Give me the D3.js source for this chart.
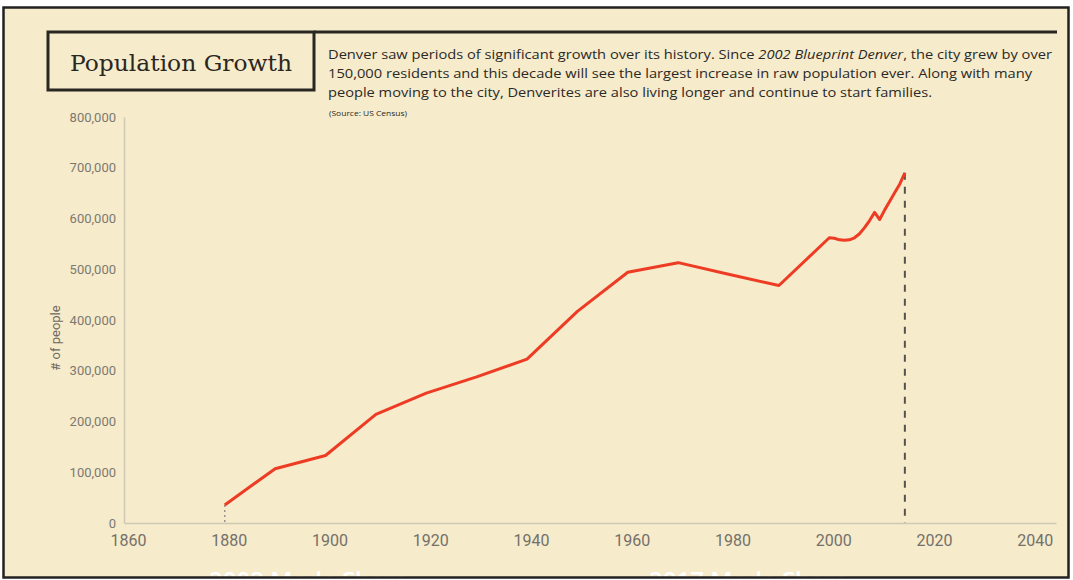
<!DOCTYPE html>
<html>
<head>
<meta charset="utf-8">
<script src="https://cdn.jsdelivr.net/npm/d3@7"></script>
<style>
  body { margin: 0; background: #fff; }
  svg { display: block; }
</style>
</head>
<body>
<script>
// population of Denver
const years = [1880, 1890, 1900, 1910, 1920, 1930, 1940, 1950, 1960, 1970, 1980, 1990,
  2000, 2001, 2002, 2003, 2004, 2005, 2006, 2007, 2008, 2009, 2010, 2011, 2012, 2013, 2014, 2015]
const population = [35600, 107000, 133000, 214000, 256000, 288000, 323000, 417000, 494000, 513000, 490000, 468000,
  562000, 561000, 558000, 557000, 558000, 562000, 570000, 582000, 596000, 612000, 598000, 617000, 634000, 651000, 668000, 690000]
const xTicks = [1860, 1880, 1900, 1920, 1940, 1960, 1980, 2000, 2020, 2040]
const yTicks = [0, 100000, 200000, 300000, 400000, 500000, 600000, 700000, 800000]

const width = 1073
const height = 580

const svg = d3.select("body")
  .append("svg")
  .attr("width", width)
  .attr("height", height)

// panel
svg.append("rect")
  .attr("x", 3.5).attr("y", 7.5)
  .attr("width", 1065).attr("height", 570)
  .attr("fill", "#f6ebcb")

// Title box
svg.append("rect")
  .attr("x", 48).attr("y", 32)
  .attr("width", 266).attr("height", 58)
  .attr("fill", "none")
  .attr("stroke", "#2a2622")
  .attr("stroke-width", 3)
svg.append("line")
  .attr("x1", 314).attr("x2", 1057)
  .attr("y1", 32).attr("y2", 32)
  .attr("stroke", "#2a2622")
  .attr("stroke-width", 3)
svg.append("text")
  .attr("x", 70).attr("y", 71)
  .attr("textLength", 222)
  .attr("lengthAdjust", "spacingAndGlyphs")
  .style("font-family", "'DejaVu Serif', serif")
  .style("font-size", "22px")
  .style("fill", "#2a2622")
  .text("Population Growth")

// intro text
const para = svg.append("g")
  .style("font-family", "'Open Sans', sans-serif")
  .style("font-size", "13px")
  .style("fill", "#2b2926")
const l1 = para.append("text").attr("x", 328).attr("y", 59)
  .attr("textLength", 724).attr("lengthAdjust", "spacingAndGlyphs")
l1.append("tspan").text("Denver saw periods of significant growth over its history.  Since ")
l1.append("tspan").style("font-style", "italic").text("2002 Blueprint Denver")
l1.append("tspan").text(", the city grew by over")
para.append("text").attr("x", 328).attr("y", 78)
  .attr("textLength", 704).attr("lengthAdjust", "spacingAndGlyphs")
  .text("150,000 residents and this decade will see the largest increase in raw population ever.  Along with many")
para.append("text").attr("x", 328).attr("y", 97)
  .attr("textLength", 604).attr("lengthAdjust", "spacingAndGlyphs")
  .text("people moving to the city, Denverites are also living longer and continue to start families.")
para.append("text").attr("x", 329).attr("y", 116)
  .attr("textLength", 78).attr("lengthAdjust", "spacingAndGlyphs")
  .style("font-size", "6.5px")
  .text("(Source: US Census)")

// Scales
const x = d3.scaleLinear().domain([1860, 2045]).range([124, 1056])
const y = d3.scaleLinear().domain([0, 800000]).range([523, 117])

// X axis
const xAxis = svg.append("g")
  .attr("transform", `translate(0,${y(0)})`)
  .call(d3.axisBottom(x).tickValues(xTicks).tickSize(0).tickPadding(12).tickFormat(d3.format("d")))
xAxis.select(".domain").attr("stroke", "#cfc8b4").attr("stroke-width", 1.5)
xAxis.selectAll("text")
  .attr("dx", 4)
  .style("font-family", "Roboto, sans-serif")
  .style("font-size", "16px")
  .style("fill", "#74706a")

// Y axis
const yAxis = svg.append("g")
  .attr("transform", `translate(${x(1860)},0)`)
  .call(d3.axisLeft(y).tickValues(yTicks).tickSize(0).tickPadding(8).tickFormat(d3.format(",")))
yAxis.select(".domain").attr("stroke", "#cfc8b4").attr("stroke-width", 1.5)
yAxis.selectAll("text")
  .style("font-family", "Roboto, sans-serif")
  .style("font-size", "13px")
  .style("fill", "#7d7971")

svg.append("text")
  .attr("transform", `translate(60,338) rotate(-90)`)
  .attr("text-anchor", "middle")
  .style("font-family", "Roboto, sans-serif")
  .style("font-size", "13px")
  .style("fill", "#6e6a63")
  .text("# of people")

// guide lines at start and end of the series
const first = 0, last = years.length - 1
svg.append("line")
  .attr("x1", x(years[first])).attr("x2", x(years[first]))
  .attr("y1", y(population[first])).attr("y2", y(0))
  .attr("stroke", "#9a968e").attr("stroke-width", 1.5)
  .attr("stroke-dasharray", "2,3")
svg.append("line")
  .attr("x1", x(years[last])).attr("x2", x(years[last]))
  .attr("y1", y(population[last])).attr("y2", y(0))
  .attr("stroke", "#55524d").attr("stroke-width", 2)
  .attr("stroke-dasharray", "7,7")

// Line
const line = d3.line()
  .x((d, i) => x(years[i]))
  .y(d => y(d))
svg.append("path")
  .datum(population)
  .attr("d", line)
  .attr("fill", "none")
  .attr("stroke", "#ee3b24")
  .attr("stroke-width", 3)
  .attr("stroke-linejoin", "round")

// next section headings, cut off by the frame
const next = svg.append("g")
  .style("font-family", "'Open Sans', sans-serif")
  .style("font-size", "24px")
  .style("font-weight", "600")
  .style("fill", "#ffffff")
next.append("text").attr("x", 209).attr("y", 589).text("2002 Mode Share")
next.append("text").attr("x", 649).attr("y", 589).text("2017 Mode Share")

// frame
svg.append("rect")
  .attr("x", 3.5).attr("y", 7.5)
  .attr("width", 1065).attr("height", 570)
  .attr("fill", "none")
  .attr("stroke", "#222")
  .attr("stroke-width", 2.5)
</script>
</body>
</html>
